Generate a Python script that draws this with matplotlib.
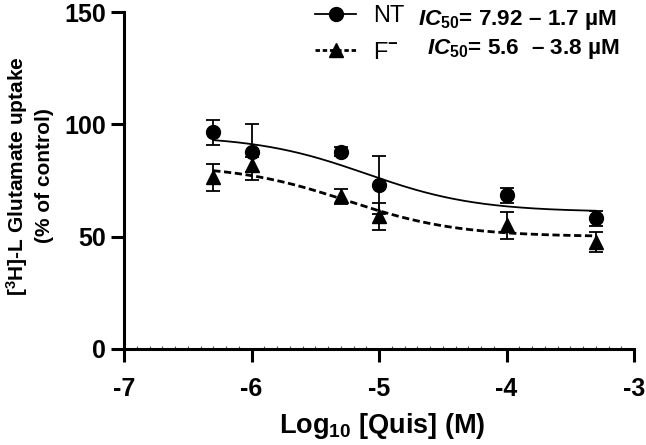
import numpy as np
import matplotlib
matplotlib.use("Agg")
import matplotlib.pyplot as plt
from matplotlib.lines import Line2D
from matplotlib.ticker import MultipleLocator

plt.rcParams['font.family'] = ['Liberation Sans', 'DejaVu Sans']
plt.rcParams['font.weight'] = 'bold'
plt.rcParams['mathtext.fontset'] = 'custom'
plt.rcParams['mathtext.rm'] = 'Liberation Sans'
plt.rcParams['mathtext.bf'] = 'Liberation Sans:bold'
plt.rcParams['mathtext.it'] = 'Liberation Sans:italic'
plt.rcParams['mathtext.bfit'] = 'Liberation Sans:bold:italic'

# data
log_conc = [-6.3, -6.0, -5.3, -5.0, -4.0, -3.3]
nt_mean = [96.5, 87.7, 87.7, 72.9, 68.4, 58.1]
nt_err = [5.5, 12.6, 2.0, 12.9, 3.3, 3.3]
f_mean = [76.5, 82.0, 68.0, 59.0, 55.0, 47.7]
f_err = [6.0, 3.3, 3.4, 6.0, 6.0, 4.4]

# fitted dose-response parameters (top, bottom, logIC50, hill)
nt_fit = (95.0, 61.0, -5.10, 1.0)
f_fit = (82.0, 50.0, -5.25, 1.0)

xticks = [-7, -6, -5, -4, -3]
yticks = [0, 50, 100, 150]


def logistic(x, top, bottom, logic50, hill):
    return bottom + (top - bottom) / (1 + 10 ** ((x - logic50) * hill))


fig = plt.figure(figsize=(6.46, 4.45), dpi=100)
ax = fig.add_axes([124 / 646, 1 - 349 / 445, 510 / 646, 337 / 445])

xs = np.linspace(log_conc[0], log_conc[-1], 200)
ax.plot(xs, logistic(xs, *nt_fit), color='black', lw=1.3, zorder=2)
ax.plot(xs, logistic(xs, *f_fit), color='black', lw=2.0, dashes=(2.6, 1.3), zorder=2)

ax.errorbar(log_conc, nt_mean, yerr=nt_err, fmt='o', color='black', ms=10,
            capsize=4.8, elinewidth=1.3, capthick=1.3, zorder=3)
ax.errorbar(log_conc, f_mean, yerr=f_err, fmt='^', color='black', ms=10,
            capsize=4.8, elinewidth=1.3, capthick=1.3, zorder=3)

ax.set_xlim(-7, -3)
ax.set_ylim(0, 150)
ax.set_xticks(xticks)
ax.set_yticks(yticks)
ax.xaxis.set_minor_locator(MultipleLocator(0.1))
for s in ['top', 'right']:
    ax.spines[s].set_visible(False)
for s in ['left', 'bottom']:
    ax.spines[s].set_linewidth(2.2)
ax.tick_params(axis='both', which='major', length=9.5, width=2.2,
               labelsize=18)
ax.tick_params(axis='y', pad=3.5)
ax.tick_params(axis='x', pad=11)
ax.tick_params(axis='x', which='minor', length=2.0, width=0.8,
               direction='in', color='#555555')
ax.set_xticklabels([str(t) for t in xticks], fontweight='bold', fontsize=18)
ax.set_yticklabels([str(t) for t in yticks], fontweight='bold', fontsize=18)

fig.text(382 / 646, 1 - 433 / 445, r'Log$_{\mathbf{10}}$ [Quis] (M)',
         ha='center', va='baseline', fontsize=19.5, fontweight='bold')
fig.text(29 / 646, 1 - 176 / 445,
         '[$^{\\mathbf{3}}$H]-L Glutamate uptake\n(% of control)',
         ha='center', va='center', rotation=90, fontsize=15,
         fontweight='bold', linespacing=1.3)

handles = [Line2D([], [], color='black', lw=1.3, marker='o', ms=10),
           Line2D([], [], color='black', lw=2.0, dashes=(1.6, 1.0),
                  marker='^', ms=10)]
ax.legend(handles, ['NT', 'F$^{-}$'], loc='upper left',
          bbox_to_anchor=(315 / 646, 1 - 5 / 445),
          bbox_transform=fig.transFigure, frameon=False,
          prop={'size': 17, 'weight': 'normal'},
          borderpad=0, borderaxespad=0, handlelength=1.75,
          handletextpad=0.7, labelspacing=0.62)

fig.text(418 / 646, 1 - 25 / 445,
         r'$\mathbfit{IC}_{\mathbf{50}}$= 7.92 – 1.7 µM',
         ha='left', va='baseline', fontsize=16.2, fontweight='bold')
fig.text(427 / 646, 1 - 54 / 445,
         r'$\mathbfit{IC}_{\mathbf{50}}$= 5.6  – 3.8 µM',
         ha='left', va='baseline', fontsize=16.2, fontweight='bold')

fig.savefig('out.png', dpi=100)
